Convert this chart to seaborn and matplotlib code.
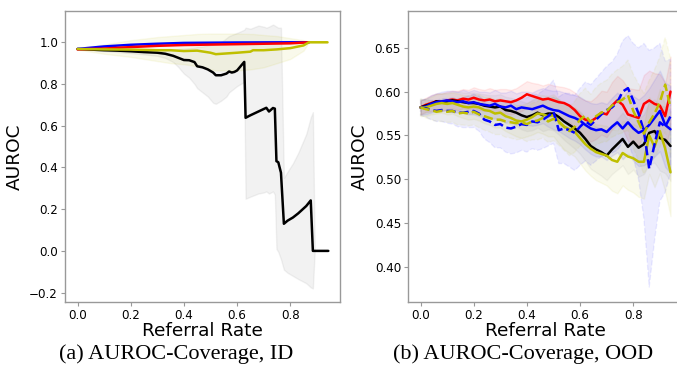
import numpy as np
import matplotlib
matplotlib.use("Agg")
import matplotlib.pyplot as plt
import seaborn as sns

# ---- panel (a): ID ----
id_x_blue = [0.0, 0.1, 0.2, 0.3, 0.4, 0.6, 0.8, 0.87]
id_y_blue = [0.968, 0.980, 0.988, 0.993, 0.997, 0.999, 1.0, 1.0]
id_x_red = [0.0, 0.1, 0.2, 0.3, 0.4, 0.6, 0.8, 0.87]
id_y_red = [0.966, 0.970, 0.977, 0.983, 0.987, 0.991, 0.995, 1.0]

id_x_yel = [0.0, 0.1, 0.2, 0.3, 0.35, 0.4, 0.45, 0.5, 0.52, 0.6, 0.65, 0.66, 0.7, 0.75, 0.8, 0.85, 0.87, 0.94]
id_y_yel = [0.968, 0.966, 0.965, 0.962, 0.962, 0.958, 0.960, 0.950, 0.943, 0.950, 0.955, 0.962, 0.962, 0.966, 0.972, 0.985, 1.0, 1.0]
id_lo_yel = [0.965, 0.945, 0.930, 0.910, 0.900, 0.895, 0.885, 0.870, 0.865, 0.865, 0.870, 0.872, 0.880, 0.900, 0.920, 0.960, 1.0, 1.0]
id_hi_yel = [0.972, 0.990, 1.010, 1.025, 1.030, 1.035, 1.040, 1.042, 1.042, 1.042, 1.040, 1.040, 1.035, 1.030, 1.020, 1.010, 1.0, 1.0]

id_x_blk = [0.00, 0.05, 0.10, 0.15, 0.20, 0.25, 0.30, 0.33, 0.36, 0.38, 0.40, 0.42, 0.44, 0.45,
            0.47, 0.49, 0.51, 0.52, 0.54, 0.56, 0.57, 0.58, 0.59, 0.60, 0.627, 0.632, 0.65, 0.68,
            0.70, 0.71, 0.72, 0.735, 0.742, 0.748, 0.755, 0.765, 0.776, 0.79, 0.81, 0.83, 0.86,
            0.877, 0.885, 0.892, 0.943]
id_y_blk = [0.968, 0.965, 0.962, 0.960, 0.957, 0.953, 0.950, 0.945, 0.935, 0.925, 0.915, 0.914, 0.905, 0.885,
            0.880, 0.870, 0.855, 0.842, 0.842, 0.850, 0.860, 0.855, 0.858, 0.865, 0.906, 0.638, 0.650, 0.668,
            0.680, 0.686, 0.668, 0.685, 0.682, 0.430, 0.425, 0.375, 0.130, 0.145, 0.160, 0.180, 0.215,
            0.242, 0.0, 0.0, 0.0]
id_lo_blk = [0.968, 0.962, 0.958, 0.953, 0.948, 0.942, 0.935, 0.925, 0.905, 0.880, 0.850, 0.830, 0.800, 0.780,
             0.760, 0.740, 0.710, 0.705, 0.720, 0.740, 0.760, 0.770, 0.780, 0.790, 0.810, 0.250, 0.260, 0.275,
             0.280, 0.285, 0.275, 0.285, 0.270, 0.010, -0.005, -0.040, -0.090, -0.105, -0.120, -0.135, -0.155,
             -0.175, -0.180, 0.0, 0.0]
id_hi_blk = [0.970, 0.968, 0.966, 0.966, 0.966, 0.964, 0.962, 0.962, 0.965, 0.968, 0.970, 0.972, 0.975, 0.978,
             0.980, 0.985, 0.990, 0.995, 1.000, 1.020, 1.030, 1.035, 1.040, 1.045, 1.060, 1.070, 1.065, 1.080,
             1.075, 1.070, 1.075, 1.085, 1.080, 1.075, 1.070, 1.070, 0.350, 0.380, 0.420, 0.470, 0.560,
             0.640, 0.665, 0.0, 0.0]

# ---- panel (b): OOD ----
ood_x = np.round(np.arange(0, 0.941, 0.02), 2)

ood_red = [0.582, 0.585, 0.587, 0.589, 0.588, 0.590, 0.591, 0.590, 0.592, 0.591, 0.593, 0.591, 0.590, 0.591, 0.589, 0.590,
           0.589, 0.588, 0.590, 0.593, 0.597, 0.595, 0.593, 0.591, 0.592, 0.590, 0.588, 0.587, 0.584, 0.579, 0.572, 0.568,
           0.566, 0.570, 0.576, 0.574, 0.584, 0.590, 0.585, 0.574, 0.572, 0.570, 0.586, 0.590, 0.586, 0.584, 0.572, 0.600]
ood_blue = [0.582, 0.583, 0.586, 0.588, 0.589, 0.590, 0.589, 0.588, 0.589, 0.587, 0.588, 0.586, 0.585, 0.584, 0.586, 0.583,
            0.582, 0.584, 0.580, 0.582, 0.581, 0.580, 0.582, 0.584, 0.581, 0.579, 0.578, 0.575, 0.572, 0.570, 0.567, 0.562,
            0.558, 0.556, 0.557, 0.554, 0.560, 0.565, 0.558, 0.565, 0.558, 0.553, 0.556, 0.562, 0.570, 0.578, 0.562, 0.557]
ood_blue_d = [0.582, 0.581, 0.579, 0.578, 0.579, 0.578, 0.578, 0.576, 0.576, 0.577, 0.578, 0.575, 0.568, 0.566, 0.562, 0.563,
              0.559, 0.558, 0.560, 0.563, 0.562, 0.566, 0.565, 0.568, 0.572, 0.577, 0.556, 0.558, 0.556, 0.553, 0.560, 0.566,
              0.562, 0.568, 0.574, 0.579, 0.582, 0.588, 0.600, 0.604, 0.590, 0.575, 0.555, 0.512, 0.540, 0.565, 0.560, 0.572]
ood_black = [0.582, 0.584, 0.586, 0.589, 0.588, 0.589, 0.590, 0.589, 0.588, 0.587, 0.587, 0.586, 0.584, 0.583, 0.582, 0.583,
             0.579, 0.578, 0.576, 0.573, 0.571, 0.573, 0.576, 0.573, 0.575, 0.575, 0.571, 0.566, 0.562, 0.558, 0.553, 0.546,
             0.538, 0.534, 0.531, 0.527, 0.534, 0.540, 0.546, 0.537, 0.543, 0.536, 0.540, 0.553, 0.555, 0.547, 0.545, 0.538]
ood_yel = [0.582, 0.582, 0.584, 0.586, 0.587, 0.586, 0.587, 0.585, 0.583, 0.582, 0.583, 0.582, 0.579, 0.578, 0.575, 0.576,
           0.572, 0.570, 0.567, 0.566, 0.568, 0.571, 0.575, 0.574, 0.572, 0.573, 0.566, 0.560, 0.557, 0.554, 0.547, 0.540,
           0.535, 0.531, 0.529, 0.527, 0.522, 0.520, 0.530, 0.526, 0.524, 0.520, 0.520, 0.550, 0.537, 0.555, 0.535, 0.508]
ood_yel_d = [0.582, 0.580, 0.579, 0.577, 0.578, 0.577, 0.578, 0.575, 0.576, 0.575, 0.577, 0.574, 0.572, 0.570, 0.568, 0.568,
             0.566, 0.565, 0.564, 0.565, 0.563, 0.566, 0.567, 0.570, 0.566, 0.569, 0.565, 0.560, 0.555, 0.560, 0.568, 0.573,
             0.565, 0.572, 0.576, 0.578, 0.584, 0.588, 0.591, 0.596, 0.578, 0.565, 0.552, 0.565, 0.575, 0.588, 0.608, 0.582]

# half widths of the shaded bands
hw_red = [0.008, 0.008, 0.009, 0.009, 0.010, 0.010, 0.010, 0.011, 0.011, 0.011, 0.012, 0.012, 0.012, 0.013, 0.013, 0.013,
          0.014, 0.014, 0.014, 0.015, 0.015, 0.015, 0.016, 0.016, 0.017, 0.017, 0.018, 0.018, 0.019, 0.020, 0.021, 0.022,
          0.023, 0.024, 0.025, 0.026, 0.027, 0.028, 0.028, 0.030, 0.031, 0.032, 0.033, 0.034, 0.035, 0.036, 0.038, 0.040]
hw_blue = [0.008, 0.009, 0.010, 0.010, 0.011, 0.011, 0.012, 0.012, 0.013, 0.013, 0.014, 0.014, 0.015, 0.015, 0.016, 0.016,
           0.017, 0.017, 0.018, 0.018, 0.019, 0.019, 0.020, 0.020, 0.021, 0.022, 0.023, 0.024, 0.025, 0.026, 0.027, 0.028,
           0.029, 0.030, 0.031, 0.032, 0.033, 0.034, 0.035, 0.036, 0.037, 0.038, 0.040, 0.042, 0.044, 0.046, 0.048, 0.050]
hw_blue_d = [0.009, 0.010, 0.011, 0.012, 0.013, 0.014, 0.015, 0.016, 0.017, 0.018, 0.019, 0.020, 0.022, 0.024, 0.026, 0.027,
             0.028, 0.029, 0.030, 0.030, 0.031, 0.031, 0.032, 0.033, 0.034, 0.036, 0.038, 0.040, 0.042, 0.043, 0.044, 0.045,
             0.046, 0.047, 0.048, 0.050, 0.052, 0.055, 0.058, 0.060, 0.065, 0.075, 0.100, 0.135, 0.110, 0.090, 0.075, 0.065]
hw_black = [0.008, 0.008, 0.009, 0.009, 0.010, 0.010, 0.010, 0.011, 0.011, 0.012, 0.012, 0.012, 0.013, 0.013, 0.014, 0.014,
            0.015, 0.015, 0.015, 0.016, 0.016, 0.017, 0.017, 0.018, 0.018, 0.019, 0.020, 0.021, 0.022, 0.023, 0.024, 0.025,
            0.026, 0.026, 0.027, 0.028, 0.028, 0.029, 0.030, 0.031, 0.032, 0.033, 0.034, 0.035, 0.036, 0.037, 0.038, 0.040]
hw_yel = [0.009, 0.010, 0.010, 0.011, 0.011, 0.012, 0.012, 0.013, 0.013, 0.014, 0.014, 0.015, 0.015, 0.016, 0.016, 0.017,
          0.017, 0.018, 0.018, 0.019, 0.019, 0.020, 0.021, 0.022, 0.023, 0.024, 0.025, 0.026, 0.027, 0.028, 0.029, 0.030,
          0.031, 0.032, 0.033, 0.034, 0.035, 0.036, 0.037, 0.038, 0.039, 0.040, 0.042, 0.044, 0.046, 0.048, 0.049, 0.050]
hw_yel_d = [0.010, 0.010, 0.011, 0.011, 0.012, 0.012, 0.013, 0.013, 0.014, 0.014, 0.015, 0.015, 0.016, 0.016, 0.017, 0.017,
            0.018, 0.018, 0.019, 0.019, 0.020, 0.021, 0.022, 0.023, 0.024, 0.025, 0.026, 0.027, 0.028, 0.029, 0.030, 0.031,
            0.032, 0.033, 0.034, 0.035, 0.036, 0.037, 0.038, 0.040, 0.042, 0.044, 0.046, 0.048, 0.050, 0.052, 0.054, 0.056]

captions = ["(a) AUROC-Coverage, ID", "(b) AUROC-Coverage, OOD"]

sns.set_theme(style="white")
plt.rcParams["font.family"] = ["DejaVu Sans"]
plt.rcParams["axes.edgecolor"] = "#999999"
plt.rcParams["axes.linewidth"] = 1.0
plt.rcParams["text.color"] = "black"
plt.rcParams["axes.labelcolor"] = "black"
plt.rcParams["xtick.color"] = "black"
plt.rcParams["ytick.color"] = "black"

BLK = "#000000"
RED = "#ff0000"
BLU = "#0000ff"
YEL = "#bfbf00"

fig = plt.figure(figsize=(6.77, 3.81), dpi=100)
ax1 = fig.add_axes([65 / 677, 1 - 302 / 381, 275 / 677, 291 / 381])
ax2 = fig.add_axes([408 / 677, 1 - 302 / 381, 275 / 677, 291 / 381])


def band(ax, x, lo, hi, color, a=0.08):
    ax.fill_between(x, lo, hi, color=color, alpha=a, lw=1)


# panel a
band(ax1, id_x_blk, id_lo_blk, id_hi_blk, "grey", 0.10)
band(ax1, id_x_yel, id_lo_yel, id_hi_yel, YEL, 0.08)
sns.lineplot(x=id_x_blk, y=id_y_blk, ax=ax1, color=BLK, lw=1.8)
sns.lineplot(x=id_x_blue, y=id_y_blue, ax=ax1, color=BLU, lw=1.8)
sns.lineplot(x=id_x_red, y=id_y_red, ax=ax1, color=RED, lw=1.8)
sns.lineplot(x=id_x_yel, y=id_y_yel, ax=ax1, color=YEL, lw=1.8)
ax1.set_xlim(-0.047, 0.987)
ax1.set_ylim(-0.245, 1.15)
ax1.set_yticks([-0.2, 0.0, 0.2, 0.4, 0.6, 0.8, 1.0])

# panel b
series = [
    (ood_red, hw_red, RED, "-"),
    (ood_black, hw_black, BLK, "-"),
    (ood_blue, hw_blue, BLU, "-"),
    (ood_yel, hw_yel, YEL, "-"),
    (ood_blue_d, hw_blue_d, BLU, "--"),
    (ood_yel_d, hw_yel_d, YEL, "--"),
]
for vals, hw, col, ls in series:
    v = np.array(vals)
    h = np.array(hw)
    fc = "grey" if col == BLK else col
    ax2.fill_between(ood_x, v - h, v + h, color=fc, alpha=0.07, lw=1,
                     linestyle=ls)
for vals, hw, col, ls in series:
    sns.lineplot(x=ood_x, y=vals, ax=ax2, color=col, lw=1.8, linestyle=ls)
ax2.set_xlim(-0.047, 0.987)
ax2.set_ylim(0.36, 0.692)
ax2.set_yticks([0.40, 0.45, 0.50, 0.55, 0.60, 0.65])

for ax in (ax1, ax2):
    ax.set_xticks([0.0, 0.2, 0.4, 0.6, 0.8])
    ax.xaxis.set_major_formatter(matplotlib.ticker.FormatStrFormatter("%.1f"))
    ax.tick_params(labelsize=8.6, length=3, width=0.8, color="#999999", pad=2,
                   bottom=True, left=True, labelcolor="black")
    ax.set_xlabel("Referral Rate", fontsize=13.3, labelpad=0)
    ax.set_ylabel("AUROC", fontsize=13.3, labelpad=4)
ax2.yaxis.set_major_formatter(matplotlib.ticker.FormatStrFormatter("%.2f"))

fig.text(176 / 677, 1 - 354 / 381, captions[0], family="Liberation Serif",
         fontsize=16, ha="center", va="center")
fig.text(523 / 677, 1 - 354 / 381, captions[1], family="Liberation Serif",
         fontsize=16, ha="center", va="center")

fig.savefig("out.png", dpi=100)
